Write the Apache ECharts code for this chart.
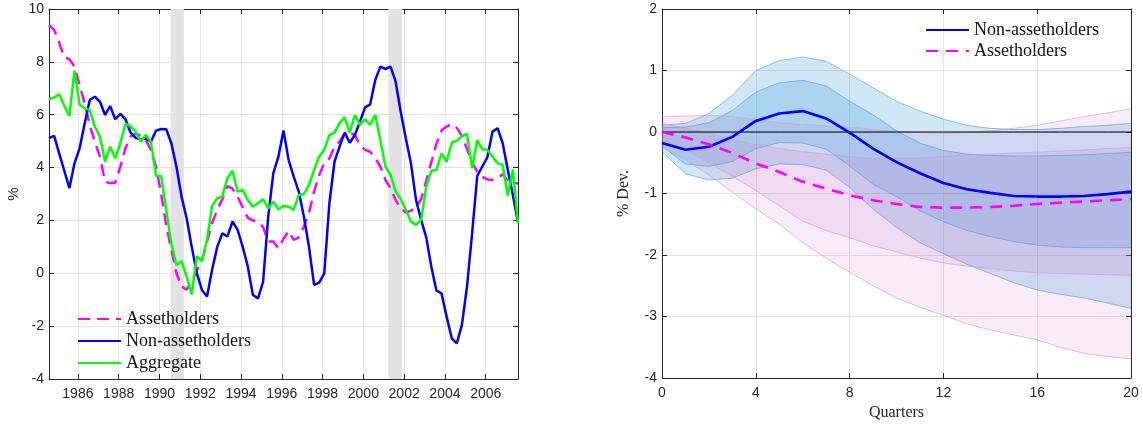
<!DOCTYPE html>
<html>
<head>
<meta charset="utf-8">
<script src="https://cdn.jsdelivr.net/npm/echarts@6/dist/echarts.min.js"></script>
<style>
html, body { margin: 0; padding: 0; background: #fff; }
#left { position: absolute; left: 0; top: 0; width: 580px; height: 428px; }
#right { position: absolute; left: 580px; top: 0; width: 563px; height: 428px; }
</style>
</head>
<body>
<div id="left"></div>
<div id="right"></div>
<script>
// quarterly sample, 1984Q3 .. 2007Q3 (mid-quarter month)
var firstYear = 1984, firstQuarter = 3, nQuarters = 93;
var dates = [];
for (var k = 0; k < nQuarters; k++) {
    var q = firstQuarter - 1 + k;
    var y = firstYear + Math.floor(q / 4);
    dates.push(y + (3 * (q % 4) + 1) / 12);
}
var yearTicks = [1986, 1988, 1990, 1992, 1994, 1996, 1998, 2000, 2002, 2004, 2006];
var recessions = [[1990.55, 1991.2], [2001.23, 2001.9]];

var assetholders = [9.39, 9.21, 8.73, 8.17, 8.10, 7.82, 7.12, 6.43, 5.60, 4.98,
    4.41, 3.47, 3.41, 3.43, 4.04, 4.73, 5.17, 5.29, 5.20, 5.04,
    4.67, 4.04, 3.00, 1.80, 0.90, 0.00, -0.50, -0.62, -0.30, 0.10,
    0.50, 1.20, 1.90, 2.40, 2.80, 3.30, 3.20, 2.90, 2.50, 2.10,
    2.00, 1.95, 1.75, 1.20, 1.20, 0.95, 1.30, 1.60, 1.26, 1.36,
    1.77, 2.27, 3.09, 3.72, 4.16, 4.35, 4.79, 4.98, 5.29, 5.32,
    5.23, 4.85, 4.67, 4.60, 4.35, 4.04, 3.53, 3.22, 2.77, 2.46,
    2.30, 2.37, 2.50, 2.80, 3.50, 4.20, 4.90, 5.40, 5.55, 5.65,
    5.50, 5.20, 4.70, 4.20, 3.85, 3.65, 3.55, 3.53, 3.60, 3.75,
    3.50, 3.43, 3.40];
var nonAssetholders = [5.11, 5.20, 4.54, 3.88, 3.22, 4.16, 4.73, 5.67, 6.56, 6.68,
    6.49, 5.99, 6.33, 5.83, 6.03, 5.83, 5.32, 5.12, 5.07, 5.10,
    4.98, 5.40, 5.46, 5.45, 4.92, 4.03, 2.90, 2.08, 1.00, 0.00,
    -0.63, -0.88, 0.13, 1.00, 1.51, 1.39, 1.96, 1.64, 1.00, 0.25,
    -0.82, -0.95, -0.32, 2.14, 3.78, 4.41, 5.40, 4.29, 3.66, 3.09,
    2.14, 1.00, -0.44, -0.35, 0.00, 2.65, 4.22, 4.79, 5.32, 4.94,
    5.23, 5.74, 6.28, 6.39, 7.31, 7.82, 7.73, 7.82, 7.25, 6.10,
    5.10, 4.16, 2.77, 2.02, 1.36, 0.25, -0.66, -0.76, -1.64, -2.46,
    -2.65, -1.95, -0.50, 1.51, 3.68, 4.04, 4.39, 5.36, 5.49, 4.92,
    3.91, 2.96, 1.92];
var aggregate = [6.58, 6.65, 6.77, 6.33, 5.95, 7.67, 6.39, 6.24, 6.18, 5.55,
    5.17, 4.22, 4.79, 4.35, 4.92, 5.65, 5.57, 5.36, 4.98, 5.23,
    4.98, 3.68, 3.68, 2.40, 1.13, 0.31, 0.47, -0.13, -0.80, 0.65,
    0.45, 1.26, 2.55, 2.84, 2.90, 3.60, 3.88, 3.09, 3.15, 2.77,
    2.52, 2.65, 2.80, 2.46, 2.71, 2.42, 2.55, 2.52, 2.40, 2.96,
    3.00, 3.34, 3.91, 4.41, 4.67, 5.23, 5.32, 5.68, 5.90, 5.32,
    5.99, 5.61, 5.83, 5.61, 5.99, 5.04, 4.04, 3.72, 3.09, 2.80,
    2.40, 1.95, 1.83, 2.02, 3.28, 3.88, 3.91, 4.54, 4.22, 4.94,
    5.01, 5.20, 5.27, 3.97, 5.04, 4.69, 4.67, 4.41, 4.16, 4.10,
    2.93, 3.93, 1.89];

// impulse responses, quarters 0..20
var quarters = [0, 1, 2, 3, 4, 5, 6, 7, 8, 9, 10, 11, 12, 13, 14, 15, 16, 17, 18, 19, 20];
var irfNon = [-0.18, -0.29, -0.24, -0.08, 0.18, 0.30, 0.34, 0.22, -0.01, -0.27, -0.49, -0.67, -0.83, -0.93, -0.99, -1.04, -1.05, -1.05, -1.04, -1.01, -0.97];
var irfAss = [0.00, -0.09, -0.20, -0.34, -0.51, -0.65, -0.81, -0.92, -1.03, -1.11, -1.17, -1.22, -1.23, -1.23, -1.22, -1.20, -1.17, -1.15, -1.13, -1.11, -1.09];
var nonOuterHi = [0.11, 0.14, 0.30, 0.60, 1.00, 1.16, 1.22, 1.15, 0.94, 0.72, 0.50, 0.34, 0.21, 0.11, 0.06, 0.04, 0.04, 0.06, 0.09, 0.11, 0.14];
var nonOuterLo = [-0.32, -0.68, -0.78, -0.75, -0.60, -0.52, -0.53, -0.62, -0.90, -1.25, -1.55, -1.80, -1.98, -2.15, -2.30, -2.45, -2.57, -2.64, -2.70, -2.78, -2.87];
var nonInnerHi = [0.07, 0.08, 0.15, 0.35, 0.65, 0.80, 0.84, 0.75, 0.50, 0.28, 0.02, -0.18, -0.30, -0.36, -0.38, -0.39, -0.39, -0.38, -0.37, -0.35, -0.33];
var nonInnerLo = [-0.23, -0.52, -0.56, -0.48, -0.27, -0.17, -0.18, -0.28, -0.55, -0.85, -1.05, -1.28, -1.46, -1.60, -1.70, -1.78, -1.84, -1.87, -1.88, -1.88, -1.88];
var assOuterHi = [0.25, 0.26, 0.27, 0.25, 0.20, 0.15, 0.12, 0.10, 0.08, 0.04, 0.01, -0.01, -0.02, -0.01, 0.02, 0.06, 0.11, 0.18, 0.25, 0.31, 0.38];
var assOuterLo = [-0.25, -0.45, -0.70, -0.98, -1.25, -1.50, -1.80, -2.05, -2.28, -2.50, -2.70, -2.85, -2.98, -3.12, -3.22, -3.30, -3.38, -3.50, -3.60, -3.65, -3.69];
var assInnerHi = [0.14, 0.06, -0.02, -0.12, -0.21, -0.27, -0.32, -0.36, -0.40, -0.43, -0.43, -0.42, -0.40, -0.38, -0.36, -0.34, -0.33, -0.31, -0.29, -0.27, -0.25];
var assInnerLo = [-0.12, -0.30, -0.50, -0.72, -0.95, -1.20, -1.45, -1.60, -1.72, -1.85, -1.95, -2.05, -2.13, -2.18, -2.22, -2.26, -2.29, -2.30, -2.31, -2.32, -2.33];

var axisColor = '#262626';
var gridColor = '#e4e4e4';
var tickFont = 'Liberation Sans, Arial, sans-serif';
var serifFont = 'Liberation Serif, Times New Roman, serif';

function pairs(xs, ys) {
    return xs.map(function (x, i) { return [x, ys[i]]; });
}

/* box axis on top / right: ticks only */
function boxAxis(base, pos) {
    var a = echarts.util.merge({}, base, true);
    a.position = pos;
    a.axisLabel = { show: false };
    a.splitLine = { show: false };
    a.name = '';
    return a;
}

/* ---------- left panel ---------- */
var leftX = {
    type: 'value', min: dates[0], max: dates[dates.length - 1],
    axisLine: { onZero: false, lineStyle: { color: axisColor, width: 1 } },
    axisTick: { inside: true, length: 5, customValues: yearTicks, lineStyle: { color: axisColor } },
    axisLabel: {
        customValues: yearTicks, color: axisColor, fontSize: 14, fontFamily: tickFont, margin: 8,
        formatter: function (v) { return String(v); }
    },
    splitLine: { show: true, lineStyle: { color: gridColor, width: 1 } }
};
var leftY = {
    type: 'value', min: -4, max: 10, interval: 2,
    name: '%', nameLocation: 'middle', nameGap: 28, nameRotate: 90, nameMoveOverlap: false,
    nameTextStyle: { color: axisColor, fontSize: 15, fontFamily: tickFont },
    axisLine: { onZero: false, lineStyle: { color: axisColor, width: 1 } },
    axisTick: { inside: true, length: 5, lineStyle: { color: axisColor } },
    axisLabel: { color: axisColor, fontSize: 14, fontFamily: tickFont, margin: 5 },
    splitLine: { show: true, lineStyle: { color: gridColor, width: 1 } }
};

var leftChart = echarts.init(document.getElementById('left'));
leftChart.setOption({
    animation: false,
    grid: { left: 49, top: 9, width: 469, height: 370, outerBoundsMode: 'none', containLabel: false },
    xAxis: [leftX, boxAxis(leftX, 'top')],
    yAxis: [leftY, boxAxis(leftY, 'right')],
    legend: {
        orient: 'vertical', left: 72, top: 305, itemWidth: 43, itemHeight: 14, itemGap: 4,
        itemStyle: { opacity: 0 },
        data: ['Assetholders', 'Non-assetholders', 'Aggregate'],
        textStyle: { fontFamily: serifFont, fontSize: 18, color: '#111', lineHeight: 18 }
    },
    series: [
        {
            name: 'Assetholders', type: 'line', symbol: 'none', data: pairs(dates, assetholders),
            lineStyle: { color: '#ff00ff', width: 2.5, type: [12, 7] }, itemStyle: { color: '#ff00ff' },
            markArea: {
                silent: true, itemStyle: { color: '#e2e2e2' },
                data: recessions.map(function (r) { return [{ xAxis: r[0] }, { xAxis: r[1] }]; })
            }
        },
        {
            name: 'Non-assetholders', type: 'line', symbol: 'none', data: pairs(dates, nonAssetholders),
            lineStyle: { color: '#0000ff', width: 2.5 }, itemStyle: { color: '#0000ff' }
        },
        {
            name: 'Aggregate', type: 'line', symbol: 'none', data: pairs(dates, aggregate),
            lineStyle: { color: '#00ff00', width: 2.5 }, itemStyle: { color: '#00ff00' }
        }
    ]
});

/* ---------- right panel ---------- */
// confidence band as one polygon, placed through the axes' own coord()
function band(lo, hi, fill, edge) {
    return {
        type: 'custom', silent: true, z: 1,
        data: [[quarters[0], lo[0]]],
        renderItem: function (params, api) {
            var top = quarters.map(function (x, i) { return api.coord([x, hi[i]]); });
            var bot = quarters.map(function (x, i) { return api.coord([x, lo[i]]); });
            return {
                type: 'group',
                children: [
                    { type: 'polygon', shape: { points: top.concat(bot.slice().reverse()) }, style: { fill: fill } },
                    { type: 'polyline', shape: { points: top }, style: { stroke: edge, lineWidth: 0.8, fill: null } },
                    { type: 'polyline', shape: { points: bot }, style: { stroke: edge, lineWidth: 0.8, fill: null } }
                ]
            };
        }
    };
}

var rightX = {
    type: 'value', min: 0, max: 20, interval: 4,
    name: 'Quarters', nameLocation: 'middle', nameGap: 27,
    nameTextStyle: { color: axisColor, fontSize: 16, fontFamily: serifFont },
    axisLine: { onZero: false, lineStyle: { color: axisColor, width: 1 } },
    axisTick: { inside: true, length: 5, lineStyle: { color: axisColor } },
    axisLabel: { color: axisColor, fontSize: 14, fontFamily: tickFont, margin: 8 },
    splitLine: { show: true, lineStyle: { color: gridColor, width: 1 } }
};
var rightY = {
    type: 'value', min: -4, max: 2, interval: 1,
    name: '% Dev.', nameLocation: 'middle', nameGap: 30, nameRotate: 90, nameMoveOverlap: false,
    nameTextStyle: { color: axisColor, fontSize: 16, fontFamily: serifFont },
    axisLine: { onZero: false, lineStyle: { color: axisColor, width: 1 } },
    axisTick: { inside: true, length: 5, lineStyle: { color: axisColor } },
    axisLabel: { color: axisColor, fontSize: 14, fontFamily: tickFont, margin: 5 },
    splitLine: { show: true, lineStyle: { color: gridColor, width: 1 } }
};

var pinkFill = 'rgba(190,100,190,0.13)', pinkEdge = 'rgba(215,150,215,0.8)';
var blueFill = 'rgba(51,153,221,0.23)', blueEdge = 'rgba(60,150,220,0.7)';

var rightChart = echarts.init(document.getElementById('right'));
rightChart.setOption({
    animation: false,
    grid: { left: 82, top: 9, width: 469, height: 369, outerBoundsMode: 'none', containLabel: false },
    xAxis: [rightX, boxAxis(rightX, 'top')],
    yAxis: [rightY, boxAxis(rightY, 'right')],
    legend: {
        orient: 'vertical', left: 340, top: 16, itemWidth: 43, itemHeight: 14, itemGap: 3,
        itemStyle: { opacity: 0 },
        data: ['Non-assetholders', 'Assetholders'],
        textStyle: { fontFamily: serifFont, fontSize: 18, color: '#111', lineHeight: 18 }
    },
    series: [
        band(nonOuterLo, nonOuterHi, blueFill, blueEdge),
        band(nonInnerLo, nonInnerHi, blueFill, blueEdge),
        band(assOuterLo, assOuterHi, pinkFill, pinkEdge),
        band(assInnerLo, assInnerHi, pinkFill, pinkEdge),
        {
            name: 'zero', type: 'line', symbol: 'none', silent: true, data: pairs(quarters, quarters.map(function () { return 0; })),
            lineStyle: { color: '#000', width: 1 }, z: 2
        },
        {
            name: 'Non-assetholders', type: 'line', symbol: 'none', data: pairs(quarters, irfNon),
            lineStyle: { color: '#0000ff', width: 2.6 }, itemStyle: { color: '#0000ff' }, z: 3
        },
        {
            name: 'Assetholders', type: 'line', symbol: 'none', data: pairs(quarters, irfAss),
            lineStyle: { color: '#ff00ff', width: 2.6, type: [12, 8] }, itemStyle: { color: '#ff00ff' }, z: 3
        }
    ]
});

window.addEventListener('resize', function () {
    leftChart.resize();
    rightChart.resize();
});
</script>
</body>
</html>
